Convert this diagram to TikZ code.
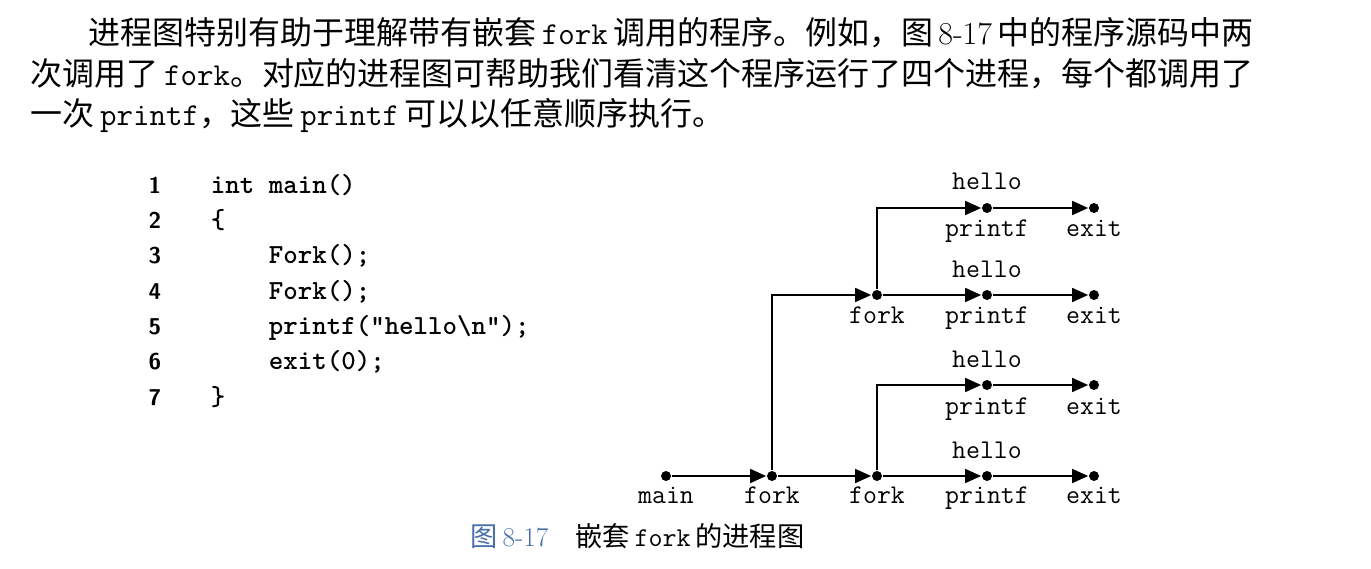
\documentclass[tikz,border=0pt]{standalone}
\usepackage{fontspec}
\newfontfamily\cjk{Noto Sans CJK SC}
\usetikzlibrary{arrows.meta, positioning}
\definecolor{capblue}{RGB}{70,110,170}

\begin{document}
\begin{tikzpicture}[
	dot/.style={circle, fill, inner sep=0, minimum size=0.2cm},
	lab/.style={anchor=base, inner sep=0, font=\fontsize{15.4}{18}\selectfont\ttfamily},
	para/.style={anchor=base west, inner sep=0, font=\fontsize{18.2}{22}\selectfont},
	num/.style={anchor=base, inner sep=0, font=\fontsize{13}{15}\selectfont\sffamily\bfseries},
	code/.style={anchor=base west, inner sep=0, font=\fontsize{15.7}{18}\selectfont\ttfamily\bfseries},
	line width=1pt,
	>={Triangle[length=3.2mm,width=2.8mm]}
	]
	\useasboundingbox (0,0) rectangle (27.42,11.36);
	
	% text above the figure
	\node[para] (l1) at (1.76,10.47) {{\cjk 进程图特别有助于理解带有嵌套}\,\texttt{fork}\,{\cjk 调用的程序。例如，图}\,8-17\,{\cjk 中的程序源码中两}};
	\node[para] (l2) at (0.60,9.65) {{\cjk 次调用了}\,\texttt{fork}{\cjk 。对应的进程图可帮助我们看清这个程序运行了四个进程，每个都调用了}};
	\node[para] (l3) at (0.60,8.85) {{\cjk 一次}\,\texttt{printf}{\cjk ，这些}\,\texttt{printf}\,{\cjk 可以以任意顺序执行。}};
	
	% source code
	\node[num] (n1) at (3.10,7.50) {1};
	\node[num] (n2) at (3.10,6.79) {2};
	\node[num] (n3) at (3.10,6.09) {3};
	\node[num] (n4) at (3.10,5.38) {4};
	\node[num] (n5) at (3.10,4.68) {5};
	\node[num] (n6) at (3.10,3.97) {6};
	\node[num] (n7) at (3.10,3.26) {7};
	\node[code] (c1) at (4.20,7.50) {int main()};
	\node[code] (c2) at (4.20,6.79) {\{};
	\node[code] (c3) at (5.36,6.09) {Fork();};
	\node[code] (c4) at (5.36,5.38) {Fork();};
	\node[code] (c5) at (5.36,4.68) {printf("hello\textbackslash n");};
	\node[code] (c6) at (5.36,3.97) {exit(0);};
	\node[code] (c7) at (4.20,3.26) {\}};
	
	% process graph
	\node[dot] (m) at (13.32,1.84) {};
	\node[dot] (f1) at (15.44,1.84) {};
	\node[dot] (f2) at (17.54,1.84) {};
	\node[dot] (p4) at (19.74,1.84) {};
	\node[dot] (e4) at (21.88,1.84) {};
	\node[dot] (p3) at (19.74,3.66) {};
	\node[dot] (e3) at (21.88,3.66) {};
	\node[dot] (f3) at (17.54,5.46) {};
	\node[dot] (p2) at (19.74,5.46) {};
	\node[dot] (e2) at (21.88,5.46) {};
	\node[dot] (p1) at (19.74,7.20) {};
	\node[dot] (e1) at (21.88,7.20) {};
	
	\node[lab] (mt) at (13.32,1.30) {main};
	\node[lab] (f1t) at (15.44,1.30) {fork};
	\node[lab] (f2t) at (17.54,1.30) {fork};
	\node[lab] (p4t) at (19.74,1.30) {printf};
	\node[lab] (e4t) at (21.88,1.30) {exit};
	\node[lab] (h4) at (19.74,2.20) {hello};
	\node[lab] (p3t) at (19.74,3.08) {printf};
	\node[lab] (e3t) at (21.88,3.08) {exit};
	\node[lab] (h3) at (19.74,4.02) {hello};
	\node[lab] (f3t) at (17.54,4.90) {fork};
	\node[lab] (p2t) at (19.74,4.90) {printf};
	\node[lab] (e2t) at (21.88,4.90) {exit};
	\node[lab] (h2) at (19.74,5.82) {hello};
	\node[lab] (p1t) at (19.74,6.64) {printf};
	\node[lab] (e1t) at (21.88,6.64) {exit};
	\node[lab] (h1) at (19.74,7.58) {hello};
	
	\draw[->] (m) -- (f1);
	\draw[->] (f1) -- (f2);
	\draw[->] (f2) -- (p4);
	\draw[->] (p4) -- (e4);
	\draw[->] (f2) |- (p3);
	\draw[->] (p3) -- (e3);
	\draw[->] (f1) |- (f3);
	\draw[->] (f3) -- (p2);
	\draw[->] (p2) -- (e2);
	\draw[->] (f3) |- (p1);
	\draw[->] (p1) -- (e1);
	
	% caption
	\node[anchor=base west, inner sep=0, font=\fontsize{15.5}{18}\selectfont] (cap) at (9.40,0.44)
	{\textcolor{capblue}{{\cjk 图}\,8-17}\quad{\cjk 嵌套}\,\texttt{fork}\,{\cjk 的进程图}};
\end{tikzpicture}
\end{document}
